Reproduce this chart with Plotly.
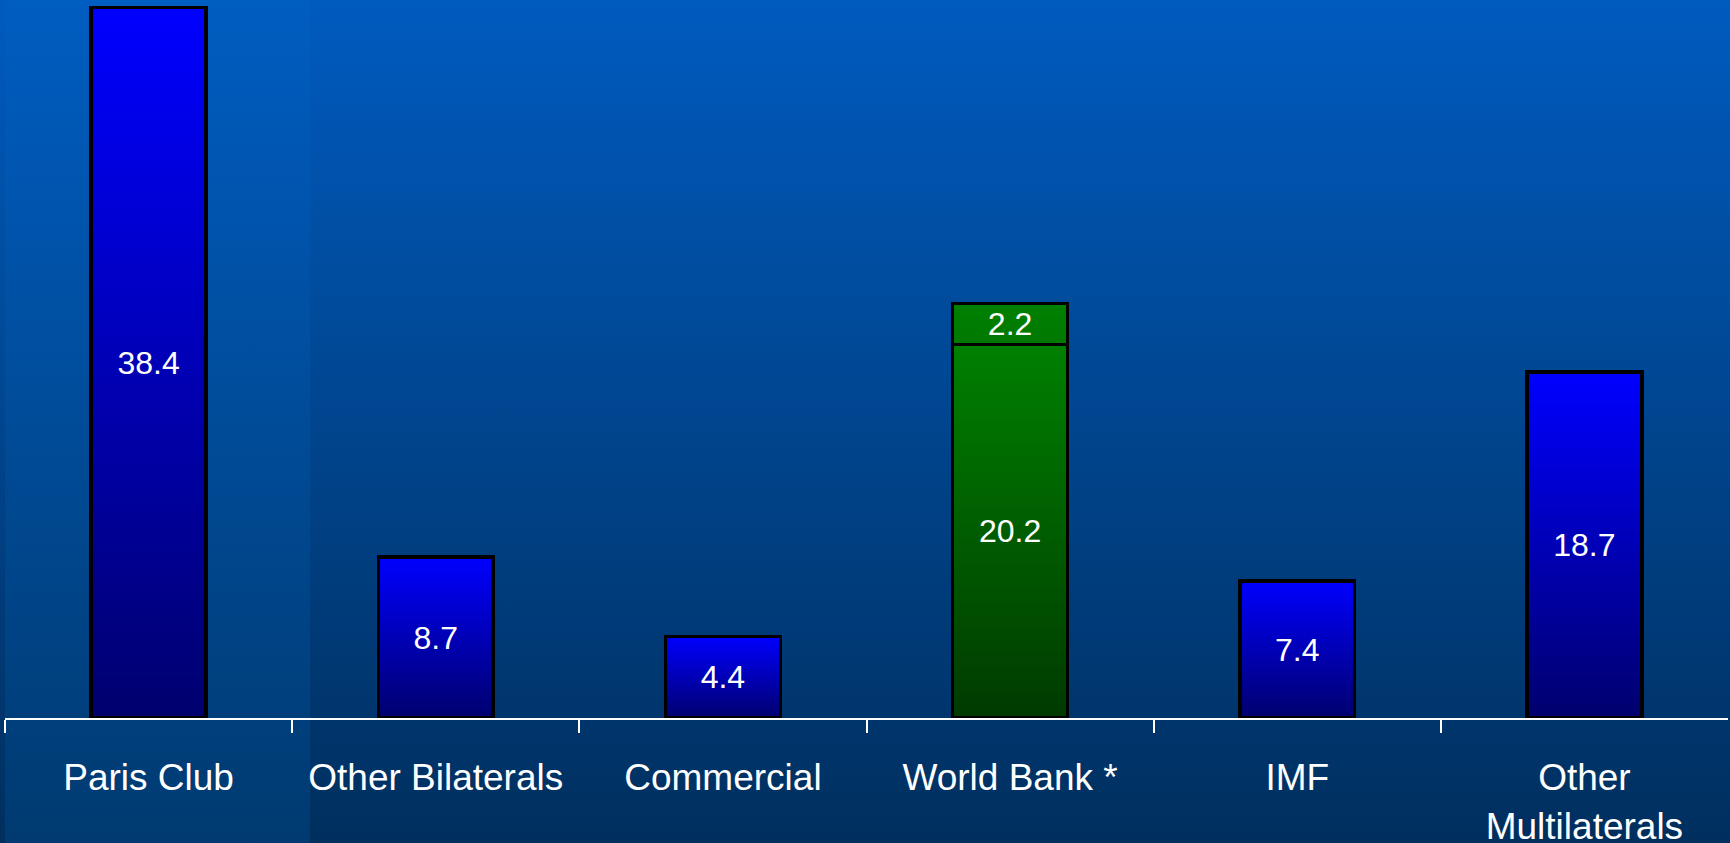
import plotly.graph_objects as go

# ---- data ----
categories = ["Paris Club", "Other Bilaterals", "Commercial", "World Bank *", "IMF", "Other<br>Multilaterals"]
base_values = [38.4, 8.7, 4.4, 20.2, 7.4, 18.7]
top_values = [None, None, None, 2.2, None, None]
bar_kind = ["blue", "blue", "blue", "green", "blue", "blue"]

# ---- styling ----
W, H = 1730, 843
BAR_W = 0.40
Y_MAX = 38.81
FONT = "Liberation Sans, Arial, sans-serif"

grad_base = {
    "blue": [[0, "#00006E"], [1, "#0000FF"]],
    "green": [[0, "#003A00"], [1, "#008000"]],
}
grad_top = [[0, "#007800"], [1, "#008000"]]

fig = go.Figure()

# background (slide-style gradient)
fig.add_trace(go.Scatter(
    x=[0, 0, W, W], y=[0, H, H, 0], fill="toself", mode="lines",
    line=dict(width=0), hoverinfo="skip", showlegend=False,
    fillgradient=dict(type="vertical", colorscale=[[0, "#002F5E"], [1, "#005BBF"]], start=0, stop=H),
    xaxis="x", yaxis="y"))
fig.add_trace(go.Scatter(
    x=[5, 5, 310, 310], y=[0, H, H, 0], fill="toself", mode="lines",
    line=dict(width=0), hoverinfo="skip", showlegend=False,
    fillgradient=dict(type="vertical", colorscale=[[0, "#003A70"], [1, "#005DC1"]], start=0, stop=H),
    xaxis="x", yaxis="y"))

# gradient fills of the bars (under the outlined bars)
def grad_fill(i, b, v, cs):
    x0, x1 = i - BAR_W / 2, i + BAR_W / 2
    fig.add_trace(go.Scatter(
        x=[x0, x0, x1, x1], y=[b, b + v, b + v, b], fill="toself", mode="lines",
        line=dict(width=0), hoverinfo="skip", showlegend=False,
        fillgradient=dict(type="vertical", colorscale=cs, start=b, stop=b + v),
        xaxis="x2", yaxis="y2"))

for i, v in enumerate(base_values):
    grad_fill(i, 0, v, grad_base[bar_kind[i]])
for i, v in enumerate(top_values):
    if v is not None:
        grad_fill(i, base_values[i], v, grad_top)

txtfont = dict(color="white", size=32, family=FONT)
fig.add_trace(go.Bar(
    x=categories, y=base_values, width=BAR_W,
    marker=dict(color="rgba(0,0,0,0)", line=dict(color="black", width=3.5)),
    text=[f"{v}" for v in base_values], textposition="inside", insidetextanchor="middle",
    textangle=0, constraintext="none", textfont=txtfont, hoverinfo="skip",
    showlegend=False, xaxis="x3", yaxis="y3"))
fig.add_trace(go.Bar(
    x=categories, y=top_values, width=BAR_W,
    marker=dict(color="rgba(0,0,0,0)", line=dict(color="black", width=3.5)),
    text=["" if v is None else f"{v}" for v in top_values], textposition="inside",
    insidetextanchor="middle", textangle=0, constraintext="none", textfont=txtfont,
    hoverinfo="skip", showlegend=False, xaxis="x3", yaxis="y3"))

fig.update_layout(
    width=W, height=H, margin=dict(l=0, r=0, t=0, b=0, autoexpand=False),
    paper_bgcolor="#00468C", plot_bgcolor="rgba(0,0,0,0)",
    barmode="stack", showlegend=False,
    uniformtext=dict(minsize=32, mode="show"),
    xaxis=dict(domain=[0, 1], range=[0, W], visible=False, fixedrange=True, automargin=False),
    yaxis=dict(domain=[0, 1], range=[0, H], visible=False, fixedrange=True, automargin=False),
    xaxis2=dict(domain=[5 / W, 1728 / W], range=[-0.5, 5.5], visible=False, anchor="y2", automargin=False),
    yaxis2=dict(domain=[125 / H, 1], range=[0, Y_MAX], visible=False, anchor="x2", automargin=False),
    xaxis3=dict(overlaying="x2", anchor="y3", type="category", range=[-0.5, 5.5],
                categoryorder="array", categoryarray=categories, automargin=False,
                tickson="boundaries", ticks="outside", ticklen=13, tickwidth=2,
                tickcolor="white", showline=True, linecolor="white", linewidth=2,
                showgrid=False, zeroline=False, ticklabelstandoff=26,
                tickfont=dict(color="white", size=37, family=FONT)),
    yaxis3=dict(overlaying="y2", anchor="x3", range=[0, Y_MAX], visible=False, automargin=False),
)

fig.write_html("out.html")
